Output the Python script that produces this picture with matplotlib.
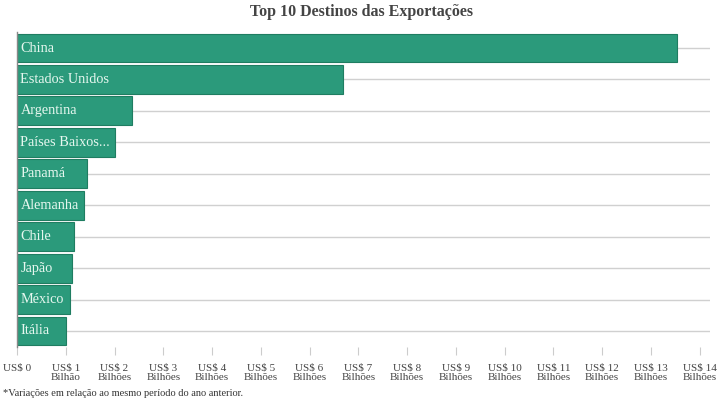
import matplotlib
matplotlib.use("Agg")
import matplotlib.pyplot as plt

countries = ["China", "Estados Unidos", "Argentina", "Países Baixos...", "Panamá",
             "Alemanha", "Chile", "Japão", "México", "Itália"]
values = [13.54, 6.68, 2.35, 2.01, 1.44, 1.37, 1.16, 1.13, 1.08, 1.00]
tick_values = list(range(0, 15))
tick_labels = ["US$ 0", "US$ 1\nBilhão"] + [f"US$ {i}\nBilhões" for i in range(2, 15)]

plt.rcParams['font.family'] = ['Liberation Serif', 'DejaVu Serif']

fig = plt.figure(figsize=(7.2, 4.0), dpi=100)
W, H = 720, 400
ax_left, ax_right, ax_top, ax_bottom = 17, 710, 32.3, 346.7
ax = fig.add_axes([ax_left / W, 1 - ax_bottom / H, (ax_right - ax_left) / W, (ax_bottom - ax_top) / H])

ypos = list(range(len(countries)))
for y in ypos:
    ax.axhline(y, color="#d0d0d0", lw=1, zorder=0)
ax.barh(ypos, values, height=0.92, color="#2b9a7b", edgecolor="#1f7d61", linewidth=0.8, zorder=2)
for y, name in zip(ypos, countries):
    ax.text(0.07, y, name, va="center", ha="left", fontsize=10.3, color="#e6f7ef", zorder=3)

ax.set_xlim(0, 14.21)
ax.set_ylim(9.5, -0.5)
ax.set_yticks([])
for s in ["top", "right", "bottom"]:
    ax.spines[s].set_visible(False)
ax.spines["left"].set_color("#888888")
ax.spines["left"].set_linewidth(1)

ax.set_xticks(tick_values)
ax.set_xticklabels(tick_labels, fontsize=8, color="#444444", linespacing=1.15)
ax.tick_params(axis="x", length=6, width=0.8, color="#cccccc", pad=6)
ax.get_xticklines()[0].set_color("#888888")

fig.text(362 / W, 1 - 12 / H, "Top 10 Destinos das Exportações", ha="center", va="center",
         fontsize=11.5, fontweight="bold", color="#444444")
fig.text(3 / W, 1 - 394 / H, "*Variações em relação ao mesmo período do ano anterior.",
         ha="left", va="center", fontsize=7.5, color="#333333")

fig.savefig("out.png", dpi=100)
